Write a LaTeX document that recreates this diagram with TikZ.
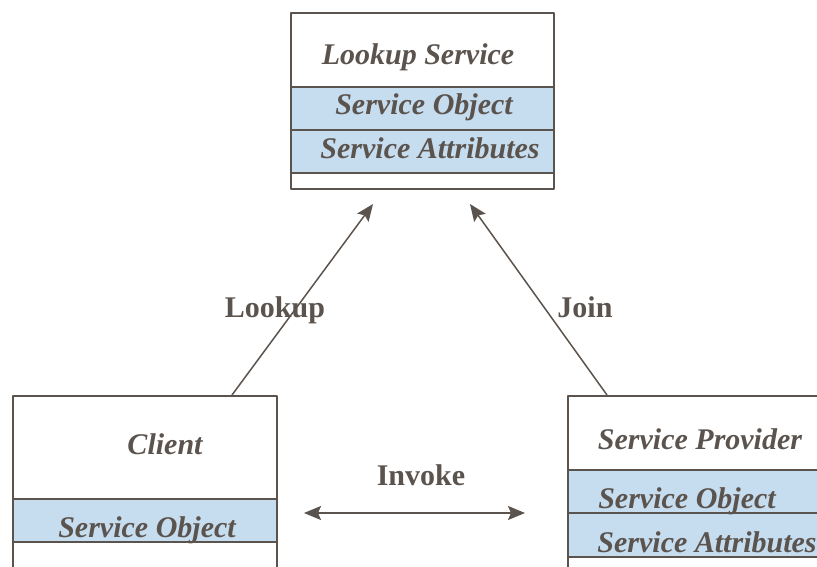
\documentclass[tikz,border=0pt]{standalone}
\usepackage{fontspec}
\setmainfont{Liberation Serif}
\usetikzlibrary{arrows.meta,positioning}
\definecolor{ink}{HTML}{5B534D}
\definecolor{rowblue}{HTML}{C6DCEF}
\begin{document}
\begin{tikzpicture}[x=1pt,y=-1pt, line join=round, >={Stealth[length=17pt,width=14pt,inset=3pt]}]
	\tikzset{box/.style={draw=ink,line width=2pt,inner sep=0pt,anchor=north west},
		row/.style={box,fill=rowblue,minimum height=43pt},
		title/.style={font=\fontsize{30}{36}\selectfont\bfseries\itshape,text=ink,anchor=base,inner sep=0pt},
		verb/.style={font=\fontsize{30}{36}\selectfont\bfseries,text=ink,anchor=base,inner sep=0pt},
		link/.style={draw=ink,line width=1.5pt}}
	\useasboundingbox (0,0) rectangle (817,567);
	\clip (0,0) rectangle (817,567);
	% boxes
	\node[box,minimum width=263pt,minimum height=176pt] (lookup) at (290,12) {};
	\node[row,minimum width=263pt] (lkobj) at (290,86) {};
	\node[row,minimum width=263pt] (lkattr) at (290,129) {};
	\node[box,minimum width=264pt,minimum height=180pt] (client) at (12,395) {};
	\node[row,minimum width=264pt] (clobj) at (12,498) {};
	\node[box,minimum width=270pt,minimum height=180pt] (provider) at (567,395) {};
	\node[row,minimum width=270pt] (probj) at (567,469) {};
	\node[row,minimum width=270pt,minimum height=44pt] (prattr) at (567,512) {};
	% texts
	\node[title] (lktitle) at (418,65) {Lookup Service};
	\node[title] (lkobjtxt) at (424,115) {Service Object};
	\node[title] (lkattrtxt) at (430,159) {Service Attributes};
	\node[title] (cltitle) at (165,454) {Client};
	\node[title] (clobjtxt) at (147,537) {Service Object};
	\node[title] (prtitle) at (700,449) {Service Provider};
	\node[title] (probjtxt) at (687,508) {Service Object};
	\node[title] (prattrtxt) at (707,552) {Service Attributes};
	% connectors
	\coordinate (lkfoot) at (232,395);
	\coordinate (lkhead) at (373,204);
	\coordinate (jnfoot) at (607,395);
	\coordinate (jnhead) at (470,204);
	\coordinate (ivleft) at (304,513);
	\coordinate (ivright) at (525,513);
	\draw[link,->] (lkfoot) -- (lkhead);
	\draw[link,->] (jnfoot) -- (jnhead);
	\draw[link,<->] (ivleft) -- (ivright);
	\node[verb] (lklabel) at (275,317) {Lookup};
	\node[verb] (jnlabel) at (585,317) {Join};
	\node[verb] (ivlabel) at (421,485) {Invoke};
\end{tikzpicture}
\end{document}
